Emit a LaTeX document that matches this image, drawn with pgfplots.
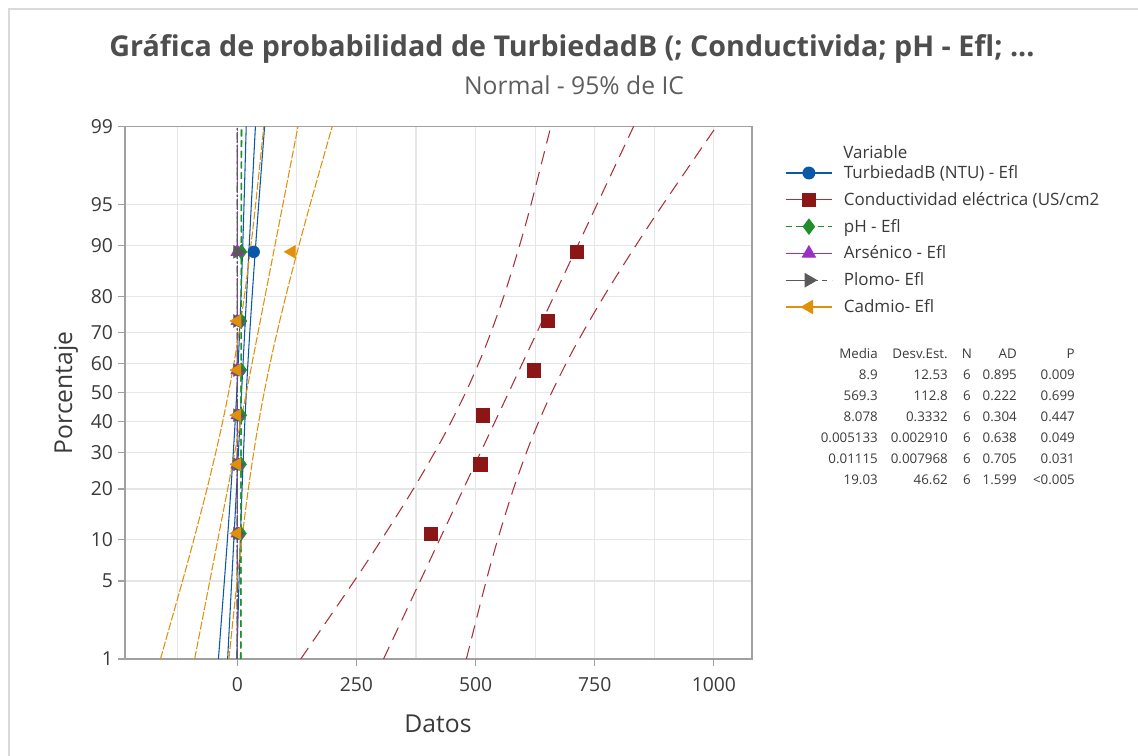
\documentclass[border=0pt]{standalone}
\usepackage{fontspec}
\setmainfont{Open Sans}
\usepackage{pgfplots}
\pgfplotsset{compat=1.18}

\definecolor{cBlue}{HTML}{0B57A8}
\definecolor{cRedL}{HTML}{A8323C}
\definecolor{cRedM}{HTML}{8C1515}
\definecolor{cGreen}{HTML}{1F8F2A}
\definecolor{cPurple}{HTML}{9B30C0}
\definecolor{cGray}{HTML}{5A5A5A}
\definecolor{cOrange}{HTML}{E0900A}
\definecolor{txt}{HTML}{3A3A3A}
\definecolor{subC}{HTML}{5E5E5E}
\definecolor{frameC}{HTML}{DADADA}
\definecolor{gridC}{HTML}{E6E6E6}
\definecolor{axisC}{HTML}{A0A0A0}

\begin{document}
\begin{tikzpicture}[x=0.75pt,y=0.75pt]
\path[use as bounding box] (0,0) rectangle (1138,756);
\draw[frameC, line width=1.5pt] (9,0) -- (9,747) -- (1138,747);

\node[anchor=base, font=\fontsize{21.5}{24}\selectfont\bfseries, text=txt!90] at (572,{756-57}) {Gráfica de probabilidad de TurbiedadB (; Conductivida; pH - Efl; ...};
\node[font=\fontsize{18.5}{21}\selectfont, text=subC] at (574,{756-85}) {Normal - 95\% de IC};

\begin{axis}[
  at={(93.75pt,72.75pt)}, anchor=south west,
  scale only axis, width=470.25pt, height=399.5pt,
  xmin=-235.6, xmax=1080, ymin=-2.3263, ymax=2.3263,
  xtick={0,250,500,750,1000}, xticklabels={0,250,500,750,1000},
  minor xtick={-125,125,375,625,875},
  ytick={-2.3263,-1.6449,-1.2816,-0.8416,-0.5244,-0.2533,0,0.2533,0.5244,0.8416,1.2816,1.6449,2.3263},
  yticklabels={1,5,10,20,30,40,50,60,70,80,90,95,99},
  xtick pos=bottom, ytick pos=left,
  tick align=outside, major tick length=5.5pt, minor tick length=0pt,
  grid=both,
  major grid style={gridC, line width=0.8pt},
  minor grid style={gridC, line width=0.8pt},
  axis line style={axisC, line width=0.9pt},
  tick style={axisC, line width=0.8pt},
  ticklabel style={font=\fontsize{14.5}{16}\selectfont, text=txt},
  xticklabel style={yshift=-4.5pt},
  legend image code/.code={\draw[mark repeat=2,mark phase=2,#1] plot coordinates {(0pt,0pt) (17.5pt,0pt) (35pt,0pt)};},
  legend style={at={(1.0526,0.9375)}, anchor=north west, draw=none, fill=none,
    inner sep=0pt, outer sep=0pt, row sep=0pt, column sep=8.25pt,
    font=\fontsize{12.75}{14}\selectfont, text=txt,
    nodes={inner sep=0pt, minimum height=20.1pt, anchor=west}},
  legend cell align=left,
]

% legend
\addlegendimage{cBlue, line width=0.9pt, mark=*, mark size=4.4pt, mark options={solid,fill=cBlue}}
\addlegendentry{TurbiedadB (NTU) - Efl}
\addlegendimage{cRedL, line width=0.9pt, mark=square*, mark size=5pt, mark options={solid,draw=cRedM,fill=cRedM}}
\addlegendentry{Conductividad eléctrica (US/cm2}
\addlegendimage{cGreen, line width=0.9pt, dash pattern=on 5pt off 3pt, mark=diamond*, mark size=5.5pt, mark options={solid,fill=cGreen}}
\addlegendentry{pH - Efl}
\addlegendimage{cPurple, line width=0.9pt, mark=triangle*, mark size=5.5pt, mark options={solid,fill=cPurple}}
\addlegendentry{Arsénico - Efl}
\addlegendimage{cGray, line width=0.9pt, dash pattern=on 24pt off 3pt on 4pt off 4pt, mark=triangle*, mark size=5.5pt, mark options={solid,fill=cGray,rotate=-90}}
\addlegendentry{Plomo- Efl}
\addlegendimage{cOrange, line width=0.9pt, mark=triangle*, mark size=5.5pt, mark options={solid,fill=cOrange,rotate=90}}
\addlegendentry{Cadmio- Efl}

% TurbiedadB
\addplot[cBlue, line width=0.8pt, forget plot] coordinates {(-20.25,-2.3263) (38.05,2.3263)};
\addplot[cBlue, line width=0.8pt, smooth, forget plot] coordinates {(-39.55,-2.3263) (-27.09,-1.6449) (-20.69,-1.2816) (-13.31,-0.8416) (-6.53,-0.4) (-1.13,0) (3.49,0.4) (7.78,0.8416) (11.43,1.2816) (14.13,1.6449) (18.75,2.3263)};
\addplot[cBlue, line width=0.8pt, smooth, forget plot] coordinates {(-0.95,-2.3263) (3.67,-1.6449) (6.37,-1.2816) (10.02,-0.8416) (14.31,-0.4) (18.93,0) (24.33,0.4) (31.12,0.8416) (38.49,1.2816) (44.89,1.6449) (57.35,2.3263)};
\addplot[only marks, mark=*, mark size=4.4pt, cBlue, mark options={fill=cBlue}, forget plot] coordinates {
  (1.9,-1.2299) (2.9,-0.6261) (3.4,-0.1970) (4.4,0.1970) (6.3,0.6261) (34.5,1.2299)};

% Conductividad
\addplot[cRedL, line width=0.8pt, dash pattern=on 10pt off 6pt, forget plot] coordinates {(306.89,-2.3263) (831.71,2.3263)};
\addplot[cRedL, line width=0.8pt, dash pattern=on 10pt off 6pt, smooth, forget plot] coordinates {(133.14,-2.3263) (245.31,-1.6449) (302.93,-1.2816) (369.34,-0.8416) (430.38,-0.4) (479.04,0) (520.62,0.4) (559.20,0.8416) (592.05,1.2816) (616.39,1.6449) (657.96,2.3263)};
\addplot[cRedL, line width=0.8pt, dash pattern=on 10pt off 6pt, smooth, forget plot] coordinates {(480.64,-2.3263) (522.21,-1.6449) (546.55,-1.2816) (579.40,-0.8416) (617.98,-0.4) (659.56,0) (708.22,0.4) (769.26,0.8416) (835.67,1.2816) (893.29,1.6449) (1005.46,2.3263)};
\addplot[only marks, mark=square*, mark size=5pt, cRedM, mark options={fill=cRedM}, forget plot] coordinates {
  (406,-1.2299) (510,-0.6261) (515,-0.1970) (622,0.1970) (651,0.6261) (712,1.2299)};

% pH
\addplot[cGreen, line width=0.8pt, dash pattern=on 5pt off 3pt, forget plot] coordinates {(7.303,-2.3263) (8.853,2.3263)};
\addplot[cGreen, line width=0.8pt, dash pattern=on 5pt off 3pt, smooth, forget plot] coordinates {(6.790,-2.3263) (7.811,0) (8.340,2.3263)};
\addplot[cGreen, line width=0.8pt, dash pattern=on 5pt off 3pt, smooth, forget plot] coordinates {(7.816,-2.3263) (8.345,0) (9.366,2.3263)};
\addplot[only marks, mark=diamond*, mark size=5.5pt, cGreen, mark options={fill=cGreen}, forget plot] coordinates {
  (7.6,-1.2299) (7.85,-0.6261) (8.0,-0.1970) (8.15,0.1970) (8.35,0.6261) (8.52,1.2299)};

% Arsenico
\addplot[cPurple, line width=0.8pt, dash pattern=on 5pt off 2pt on 1pt off 2pt, forget plot] coordinates {(-0.00164,-2.3263) (0.01190,2.3263)};
\addplot[cPurple, line width=0.8pt, dash pattern=on 5pt off 2pt on 1pt off 2pt, forget plot] coordinates {(-0.00612,-2.3263) (0.00280,0) (0.00742,2.3263)};
\addplot[cPurple, line width=0.8pt, dash pattern=on 5pt off 2pt on 1pt off 2pt, forget plot] coordinates {(0.00284,-2.3263) (0.00746,0) (0.01638,2.3263)};
\addplot[only marks, mark=triangle*, mark size=5.5pt, cPurple, mark options={fill=cPurple}, forget plot] coordinates {
  (0.003,-1.2299) (0.003,-0.6261) (0.003,-0.1970) (0.0045,0.1970) (0.0075,0.6261) (0.0098,1.2299)};

% Plomo
\addplot[cGray, line width=0.8pt, dash pattern=on 7pt off 2pt on 1.5pt off 2pt, forget plot] coordinates {(-0.00739,-2.3263) (0.02969,2.3263)};
\addplot[cGray, line width=0.8pt, dash pattern=on 7pt off 2pt on 1.5pt off 2pt, forget plot] coordinates {(-0.01966,-2.3263) (0.00477,0) (0.01742,2.3263)};
\addplot[cGray, line width=0.8pt, dash pattern=on 7pt off 2pt on 1.5pt off 2pt, forget plot] coordinates {(0.00488,-2.3263) (0.01753,0) (0.04196,2.3263)};
\addplot[only marks, mark=triangle*, mark size=5.5pt, cGray, mark options={fill=cGray,rotate=-90}, forget plot] coordinates {
  (0.005,-1.2299) (0.005,-0.6261) (0.006,-0.1970) (0.010,0.1970) (0.015,0.6261) (0.0259,1.2299)};

% Cadmio
\addplot[cOrange, line width=0.8pt, dash pattern=on 6pt off 1.5pt, forget plot] coordinates {(-89.42,-2.3263) (127.48,2.3263)};
\addplot[cOrange, line width=0.8pt, dash pattern=on 6pt off 1.5pt, smooth, forget plot] coordinates {(-161.23,-2.3263) (-114.88,-1.6449) (-91.06,-1.2816) (-63.62,-0.8416) (-38.39,-0.4) (-18.27,0) (-1.09,0.4) (14.86,0.8416) (28.44,1.2816) (38.50,1.6449) (55.67,2.3263)};
\addplot[cOrange, line width=0.8pt, dash pattern=on 6pt off 1.5pt, smooth, forget plot] coordinates {(-17.61,-2.3263) (-0.44,-1.6449) (9.62,-1.2816) (23.20,-0.8416) (39.15,-0.4) (56.33,0) (76.45,0.4) (101.68,0.8416) (129.12,1.2816) (152.94,1.6449) (199.29,2.3263)};
\addplot[only marks, mark=triangle*, mark size=5.5pt, cOrange, mark options={fill=cOrange,rotate=90}, forget plot] coordinates {
  (0.01,-1.2299) (0.02,-0.6261) (0.03,-0.1970) (0.05,0.1970) (0.07,0.6261) (114.0,1.2299)};
\end{axis}

\node[font=\fontsize{18.5}{21}\selectfont, text=txt] at (438,{756-724}) {Datos};
\node[rotate=90, font=\fontsize{18.5}{21}\selectfont, text=txt] at (66,{756-393}) {Porcentaje};
\node[anchor=west, inner sep=0pt, font=\fontsize{12.75}{14}\selectfont, text=txt] at (843,{756-152}) {Variable};

\begin{scope}[font=\fontsize{10}{11}\selectfont, text=txt]
\foreach \yy/\a/\b/\c/\d/\e in {354/Media/Desv.Est./N/AD/P,
  375/8.9/12.53/6/0.895/0.009,
  396/569.3/112.8/6/0.222/0.699,
  417/8.078/0.3332/6/0.304/0.447,
  438/0.005133/0.002910/6/0.638/0.049,
  459/0.01115/0.007968/6/0.705/0.031,
  480/19.03/46.62/6/1.599/{<0.005}} {
  \node[anchor=east, inner sep=0pt] at (878,{756-\yy}) {\a};
  \node[anchor=east, inner sep=0pt] at (948,{756-\yy}) {\b};
  \node[inner sep=0pt] at (967,{756-\yy}) {\c};
  \node[anchor=east, inner sep=0pt] at (1017,{756-\yy}) {\d};
  \node[anchor=east, inner sep=0pt] at (1075,{756-\yy}) {\e};
}
\end{scope}
\end{tikzpicture}
\end{document}
